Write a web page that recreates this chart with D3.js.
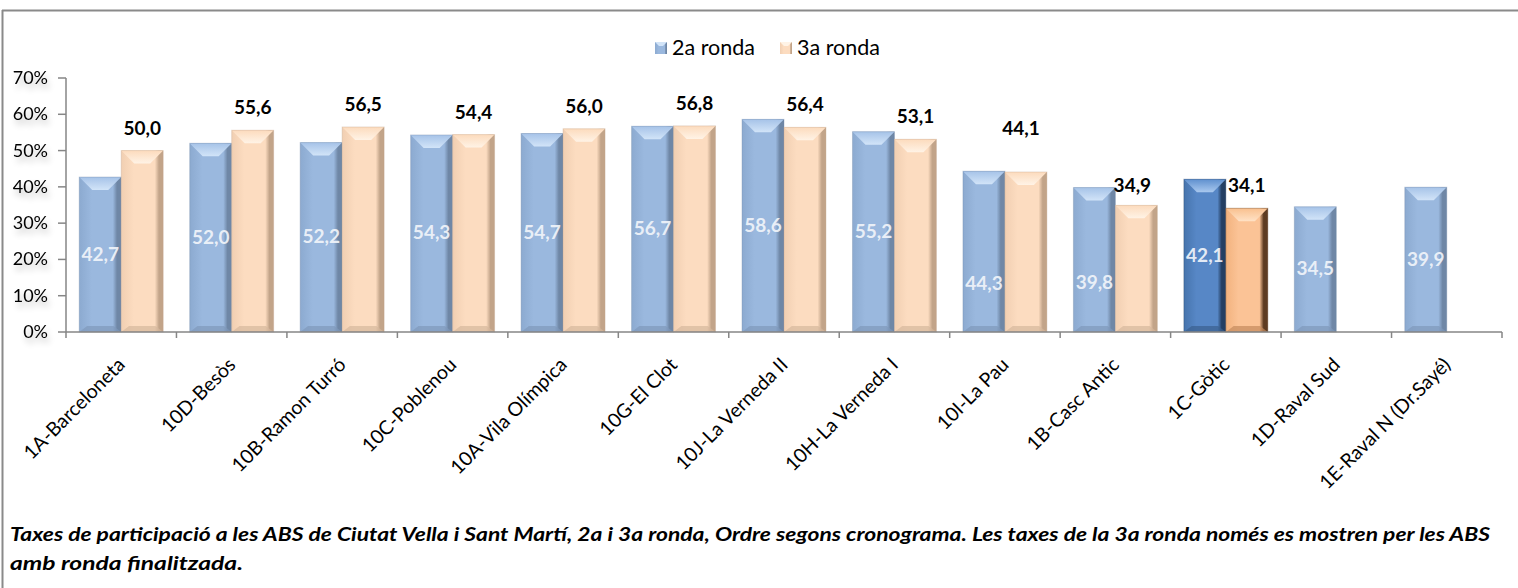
<!DOCTYPE html>
<html><head><meta charset="utf-8">
<script src="https://cdn.jsdelivr.net/npm/d3@7"></script>
<style>html,body{margin:0;padding:0;background:#fff;}svg{display:block;}</style>
</head><body>
<svg id="chart" width="1518" height="588"></svg>
<script>
const categories = ["1A-Barceloneta","10D-Besòs","10B-Ramon Turró","10C-Poblenou","10A-Vila Olímpica","10G-El Clot","10J-La Verneda II","10H-La Verneda I","10I-La Pau","1B-Casc Antic","1C-Gòtic","1D-Raval Sud","1E-Raval N (Dr.Sayé)"];
const ronda2 = [42.7,52.0,52.2,54.3,54.7,56.7,58.6,55.2,44.3,39.8,42.1,34.5,39.9];
const ronda3 = [50.0,55.6,56.5,54.4,56.0,56.8,56.4,53.1,44.1,34.9,34.1,null,null];
const seriesNames = ["2a ronda","3a ronda"];
const highlighted = ["1C-Gòtic"];
const yTicks = [0,10,20,30,40,50,60,70];
const caption = ["Taxes de participació a les ABS de Ciutat Vella i Sant Martí, 2a i 3a ronda, Ordre segons cronograma. Les taxes de la 3a ronda només es mostren per les ABS","amb ronda finalitzada."];

// manual label nudges as in the original (style, not data)
const nudge2 = {"10I-La Pau":[0,32], "1B-Casc Antic":[0,23]};
const nudge3 = {"10I-La Pau":[-5,-21], "1B-Casc Antic":[-4,3]};

const svg = d3.select("#chart");
const FONT = "Lato, 'Open Sans', sans-serif";
const defs = svg.append("defs");

const pal = {
  b: {l:"#8caad0", m:"#9ab8de", r:"#6f87a6", t1:"#d2e4f8", t2:"#a6c3e8", bt:"#7f98ba"},
  o: {l:"#f1cfb2", m:"#fcdcc0", r:"#c2a489", t1:"#fff3e6", t2:"#fcdbbd", bt:"#d6b89c"},
  bh:{l:"#4674ad", m:"#5787c6", r:"#243f63", t1:"#a9c8ee", t2:"#5f90cf", bt:"#3a5f8e"},
  oh:{l:"#f2b27e", m:"#fbc396", r:"#5e3c22", t1:"#ffe2c6", t2:"#f9c08e", bt:"#c48a5c"}
};
Object.entries(pal).forEach(([k,p])=>{
  const g = defs.append("linearGradient").attr("id","side_"+k).attr("x1",0).attr("x2",1).attr("y1",0).attr("y2",0);
  g.append("stop").attr("offset","0%").attr("stop-color",p.l);
  g.append("stop").attr("offset","30%").attr("stop-color",p.m);
  g.append("stop").attr("offset","80%").attr("stop-color",p.m);
  g.append("stop").attr("offset","90%").attr("stop-color",p.r);
  g.append("stop").attr("offset","100%").attr("stop-color",p.r);
  const t = defs.append("linearGradient").attr("id","top_"+k).attr("x1",0).attr("x2",0).attr("y1",0).attr("y2",1);
  t.append("stop").attr("offset","0%").attr("stop-color",p.t2);
  t.append("stop").attr("offset","100%").attr("stop-color",p.t1);
});
const sh = defs.append("filter").attr("id","lblshadow").attr("x","-50%").attr("y","-50%").attr("width","200%").attr("height","200%");
sh.append("feGaussianBlur").attr("in","SourceAlpha").attr("stdDeviation",3).attr("result","b");
sh.append("feOffset").attr("in","b").attr("dx",2).attr("dy",5).attr("result","o");
sh.append("feComponentTransfer").attr("in","o").attr("result","o2").append("feFuncA").attr("type","linear").attr("slope",0.25);
const mg = sh.append("feMerge"); mg.append("feMergeNode").attr("in","o2"); mg.append("feMergeNode").attr("in","SourceGraphic");

// frame
svg.append("line").attr("x1",2).attr("x2",1518).attr("y1",10.5).attr("y2",10.5).attr("stroke","#8a8a8a").attr("stroke-width",2);
svg.append("line").attr("x1",2.5).attr("x2",2.5).attr("y1",10).attr("y2",588).attr("stroke","#8a8a8a").attr("stroke-width",2);

const x0 = 66, x1 = 1502, yTop = 78, yBot = 332;
const x = d3.scaleBand().domain(categories).range([x0,x1]).paddingInner(0.24).paddingOuter(0.12);
const xs = d3.scaleBand().domain([0,1]).range([0,x.bandwidth()]);
const y = d3.scaleLinear().domain([0,70]).range([yBot,yTop]);
const step = (x1-x0)/categories.length;

// axes
svg.append("line").attr("x1",x0).attr("x2",x0).attr("y1",yTop).attr("y2",yBot).attr("stroke","#868686").attr("stroke-width",1.5);
yTicks.forEach(t=>{
  svg.append("line").attr("x1",x0-8).attr("x2",x0).attr("y1",y(t)).attr("y2",y(t)).attr("stroke","#868686").attr("stroke-width",1.5);
  svg.append("text").attr("x",48).attr("y",y(t)+6).attr("text-anchor","end").attr("font-family",FONT).attr("font-size",18).attr("fill","#000").attr("filter","url(#lblshadow)").text(t+"%");
});

function drawBar(g, bx, bw, v, k){
  const p = pal[k];
  const top = y(v), h = yBot - top;
  g.append("rect").attr("x",bx).attr("y",top).attr("width",bw).attr("height",h).attr("fill",`url(#side_${k})`);
  const bev = 13;
  g.append("path").attr("d",`M${bx},${top}L${bx+bw},${top}L${bx+bw-bev},${top+bev}L${bx+bev},${top+bev}Z`).attr("fill",`url(#top_${k})`);
  g.append("path").attr("d",`M${bx},${yBot}L${bx+bw},${yBot}L${bx+bw-bev*0.6},${yBot-6}L${bx+bev*0.6},${yBot-6}Z`).attr("fill",p.bt).attr("opacity",0.7);
  g.append("rect").attr("x",bx).attr("y",top).attr("width",bw).attr("height",h).attr("fill","none").attr("stroke",p.r).attr("stroke-opacity",0.35).attr("stroke-width",1);
}

const gb = svg.append("g");
categories.forEach((c,i)=>{
  const hl = highlighted.includes(c);
  const bx0 = x(c)+xs(0), bx1 = x(c)+xs(1), bw = xs.bandwidth();
  if(ronda2[i]!=null) drawBar(gb, bx0, bw, ronda2[i], hl?"bh":"b");
  if(ronda3[i]!=null) drawBar(gb, bx1, bw, ronda3[i], hl?"oh":"o");
});
categories.forEach((c,i)=>{
  const bw = xs.bandwidth();
  if(ronda2[i]!=null){
    const n = nudge2[c] || [0,0];
    const cx = x(c)+xs(0)+bw/2;
    svg.append("text").attr("x",cx+n[0]).attr("y",(y(ronda2[i])+yBot)/2+6+n[1]).attr("text-anchor","middle").attr("font-family",FONT).attr("font-weight","bold").attr("font-size",19).attr("fill","#f2f5fa").attr("fill-opacity",0.92).text(ronda2[i].toFixed(1).replace(".",","));
  }
  if(ronda3[i]!=null){
    const n = nudge3[c] || [0,0];
    const cx = x(c)+xs(1)+bw/2;
    svg.append("text").attr("x",cx+n[0]).attr("y",y(ronda3[i])-16+n[1]).attr("text-anchor","middle").attr("font-family",FONT).attr("font-weight","bold").attr("font-size",19).attr("fill","#000").text(ronda3[i].toFixed(1).replace(".",","));
  }
});

// x axis
svg.append("line").attr("x1",x0).attr("x2",x1).attr("y1",yBot).attr("y2",yBot).attr("stroke","#868686").attr("stroke-width",1.5);
d3.range(categories.length+1).forEach(i=>{
  const tx = x0 + i*step;
  svg.append("line").attr("x1",tx).attr("x2",tx).attr("y1",yBot).attr("y2",yBot+6).attr("stroke","#868686").attr("stroke-width",1.5);
});
categories.forEach(c=>{
  const cx = x(c)+x.bandwidth()/2;
  svg.append("text").attr("transform",`translate(${cx+5},${366}) rotate(-45)`).attr("text-anchor","end").attr("font-family",FONT).attr("font-size",19.5).attr("fill","#000").text(c);
});

// legend
const legX = [655, 780];
seriesNames.forEach((s,i)=>{
  const k = i===0?"b":"o";
  const lx = legX[i], ly = 42;
  svg.append("rect").attr("x",lx).attr("y",ly).attr("width",12).attr("height",12).attr("fill",`url(#side_${k})`);
  svg.append("path").attr("d",`M${lx},${ly}L${lx+12},${ly}L${lx+8},${ly+4}L${lx+4},${ly+4}Z`).attr("fill",pal[k].t1);
  svg.append("text").attr("x",lx+17).attr("y",ly+13).attr("font-family",FONT).attr("font-size",21.5).attr("fill","#000").text(s);
});

// caption
const capW = [1480, 233];
caption.forEach((t,i)=>{
  svg.append("text").attr("x",10).attr("y",541+i*29).attr("font-family",FONT).attr("font-weight","bold").attr("font-style","italic").attr("font-size",19.5)
    .attr("textLength",capW[i]).attr("lengthAdjust","spacingAndGlyphs").attr("fill","#000").text(t);
});
</script>
</body></html>
